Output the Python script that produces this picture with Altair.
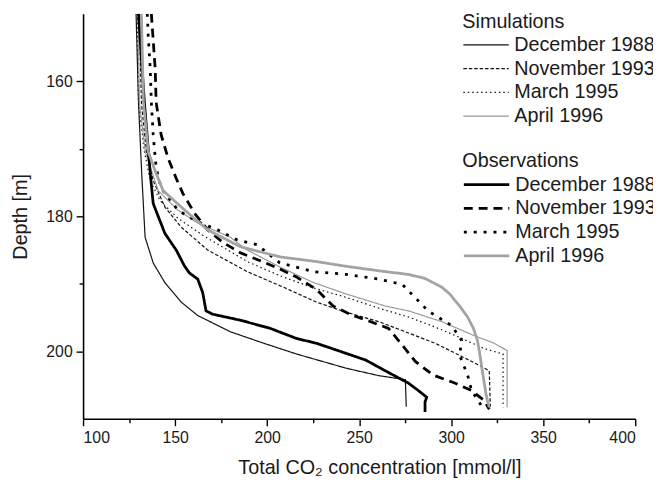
import altair as alt
import pandas as pd

series_names = ["December 1988", "November 1993", "March 1995", "April 1996"]

# ---- Simulations (thin lines) ----
sim_dec88_conc = [128.8, 130.1, 131.8, 133.7, 138.1, 144.4, 153.3, 162.3, 180.0, 198.1, 216.0, 242.9, 260.6, 275.1, 275.6]
sim_dec88_depth = [150.0, 163.0, 173.3, 183.1, 186.9, 189.8, 192.7, 194.7, 197.1, 198.8, 200.4, 202.5, 203.6, 204.2, 208.2]

sim_nov93_conc = [130.5, 131.7, 134.4, 138.1, 144.4, 153.3, 167.7, 189.2, 208.9, 226.7, 242.9, 260.6, 275.1, 291.2, 304.6, 315.4, 320.7, 321.3]
sim_nov93_depth = [150.0, 163.1, 170.4, 174.7, 178.6, 181.6, 185.0, 188.2, 190.5, 192.7, 194.2, 195.6, 197.1, 198.8, 200.6, 202.1, 202.9, 208.3]

sim_mar95_conc = [129.5, 130.1, 133.3, 136.5, 141.9, 151.6, 165.0, 189.2, 206.9, 225.1, 242.9, 260.6, 276.7, 291.2, 303.5, 318.0, 328.2, 328.2]
sim_mar95_depth = [150.0, 163.1, 170.4, 174.7, 177.7, 180.3, 182.8, 186.7, 188.8, 190.6, 192.0, 193.6, 194.9, 196.4, 197.8, 199.6, 200.4, 208.3]

sim_apr96_conc = [130.0, 130.6, 133.8, 140.8, 151.6, 162.3, 180.0, 189.2, 206.9, 225.1, 242.9, 264.3, 276.7, 294.9, 312.7, 323.4, 330.4, 330.4]
sim_apr96_depth = [150.0, 163.1, 170.4, 176.2, 179.1, 181.0, 183.1, 185.0, 187.5, 189.8, 191.5, 193.3, 194.0, 195.6, 197.7, 198.8, 199.9, 208.3]

# ---- Observations (thick lines) ----
obs_dec88_conc = [130.1, 133.3, 136.4, 138.1, 144.4, 150.6, 155.2, 157.8, 162.3, 165.0, 166.8, 170.4, 185.6, 201.7, 216.0, 226.7, 242.9, 253.6, 264.3, 276.7, 282.1, 286.7, 285.8, 285.8]
obs_dec88_depth = [150.0, 163.1, 173.3, 178.1, 182.5, 185.0, 187.4, 188.4, 189.3, 191.3, 194.0, 194.5, 195.4, 196.6, 198.1, 198.8, 200.3, 201.3, 202.9, 204.7, 205.8, 206.8, 207.5, 209.0]

obs_nov93_conc = [137.1, 139.2, 139.7, 142.4, 146.2, 150.5, 154.2, 160.7, 167.7, 175.7, 185.4, 194.5, 205.3, 216.0, 226.7, 235.9, 246.6, 255.2, 266.0, 273.5, 280.5, 290.1, 301.9, 311.1, 318.0, 320.7]
obs_nov93_depth = [150.0, 158.2, 163.1, 167.9, 171.4, 174.3, 176.6, 179.6, 182.0, 183.8, 185.4, 186.4, 187.6, 189.0, 190.8, 193.3, 194.7, 195.5, 196.6, 199.1, 201.5, 203.5, 204.7, 205.8, 207.3, 208.6]

obs_mar95_conc = [134.9, 135.4, 136.5, 137.1, 138.1, 139.7, 142.4, 146.2, 151.6, 160.7, 173.0, 183.8, 194.5, 206.9, 225.1, 242.9, 260.6, 273.5, 287.4, 300.3, 305.7, 304.6, 308.9, 311.1, 317.0]
obs_mar95_depth = [150.0, 153.3, 158.2, 163.1, 167.9, 172.8, 175.8, 177.2, 179.1, 180.6, 182.0, 183.5, 184.2, 186.9, 188.2, 188.6, 189.3, 190.1, 194.0, 196.2, 198.4, 200.6, 203.5, 205.8, 208.3]

obs_apr96_conc = [131.7, 132.8, 135.4, 139.2, 143.5, 155.3, 167.7, 185.4, 206.9, 226.7, 242.9, 264.3, 276.7, 285.8, 294.9, 299.2, 304.6, 308.9, 312.1, 314.3, 315.9, 317.5, 319.1, 320.7]
obs_apr96_depth = [150.0, 163.1, 170.4, 173.3, 176.2, 179.1, 182.0, 184.5, 186.0, 186.7, 187.4, 188.2, 188.6, 189.2, 190.5, 191.5, 193.3, 194.9, 196.6, 198.4, 201.0, 203.9, 206.6, 208.3]

x_major = [100, 150, 200, 250, 300, 350, 400]
x_minor = [125, 175, 225, 275, 325, 375]
y_major = [160, 180, 200]
y_minor = [170, 190]


def frame(concs, depths):
    rows = []
    for name, c, d in zip(series_names, concs, depths):
        for i, (cv, dv) in enumerate(zip(c, d)):
            rows.append({"series": name, "conc": cv, "depth": dv, "idx": i})
    return pd.DataFrame(rows)


sim_df = frame([sim_dec88_conc, sim_nov93_conc, sim_mar95_conc, sim_apr96_conc],
               [sim_dec88_depth, sim_nov93_depth, sim_mar95_depth, sim_apr96_depth])
obs_df = frame([obs_dec88_conc, obs_nov93_conc, obs_mar95_conc, obs_apr96_conc],
               [obs_dec88_depth, obs_nov93_depth, obs_mar95_depth, obs_apr96_depth])

FONT = "Liberation Sans"
xscale = alt.Scale(domain=[100, 400], nice=False, zero=False)
yscale = alt.Scale(domain=[150, 210], nice=False, zero=False, reverse=True)


def legend(title, ly):
    return alt.Legend(
        title=title, orient="none", legendX=384, legendY=ly,
        symbolType="M-2,0H2", symbolSize=529, symbolOffset=11.5,
        labelFontSize=20, titleFontSize=20,
        titleFontWeight="normal", labelFont=FONT, titleFont=FONT,
        labelColor="#1a1a1a", titleColor="#1a1a1a",
        labelOffset=16, rowPadding=1, titlePadding=1, padding=0, labelLimit=400,
    )


sim_leg = legend("Simulations", -2)
obs_leg = legend("Observations", 139)

sim = alt.Chart(sim_df).mark_line(clip=True).encode(
    x=alt.X("conc:Q", scale=xscale,
            axis=alt.Axis(values=x_major, title="Total CO₂ concentration [mmol/l]", orient="bottom",
                          tickSize=7, labelPadding=4, titlePadding=12, titleX=300)),
    y=alt.Y("depth:Q", scale=yscale,
            axis=alt.Axis(values=y_major, title="Depth [m]", orient="left",
                          tickSize=7, labelPadding=4, titlePadding=16)),
    color=alt.Color("series:O", sort=series_names,
                    scale=alt.Scale(domain=series_names, range=["#111111", "#111111", "#111111", "#9a9a9a"]),
                    legend=sim_leg),
    strokeDash=alt.StrokeDash("series:O", sort=series_names,
                              scale=alt.Scale(domain=series_names, range=[[1, 0], [3.5, 2], [1.5, 3], [1, 0]]),
                              legend=sim_leg),
    strokeWidth=alt.StrokeWidth("series:O", sort=series_names,
                                scale=alt.Scale(domain=series_names, range=[1.2, 1.2, 1.2, 1.4]),
                                legend=sim_leg),
    order="idx:Q",
)

obs = alt.Chart(obs_df).mark_line(clip=True).encode(
    x=alt.X("conc:Q", scale=xscale, axis=None),
    y=alt.Y("depth:Q", scale=yscale, axis=None),
    color=alt.Color("series:O", sort=series_names,
                    scale=alt.Scale(domain=series_names, range=["#000000", "#000000", "#000000", "#a3a3a3"]),
                    legend=obs_leg),
    strokeDash=alt.StrokeDash("series:O", sort=series_names,
                              scale=alt.Scale(domain=series_names, range=[[1, 0], [9, 6], [3, 7], [1, 0]]),
                              legend=obs_leg),
    strokeWidth=alt.StrokeWidth("series:O", sort=series_names,
                                scale=alt.Scale(domain=series_names, range=[2.8, 2.8, 2.8, 2.8]),
                                legend=obs_leg),
    order="idx:Q",
)

minor = alt.Chart(sim_df).mark_point(opacity=0).encode(
    x=alt.X("conc:Q", scale=xscale,
            axis=alt.Axis(values=x_minor, labels=False, domain=False, title=None, orient="bottom", tickSize=4)),
    y=alt.Y("depth:Q", scale=yscale,
            axis=alt.Axis(values=y_minor, labels=False, domain=False, title=None, orient="left", tickSize=4)),
)

chart = alt.layer(sim, obs, minor).resolve_scale(
    color="independent", strokeDash="independent", strokeWidth="independent"
).resolve_axis(x="independent", y="independent").properties(
    width=559, height=410,
    autosize=alt.AutoSizeParams(type="none"),
    padding={"left": 76, "top": 3, "right": 18, "bottom": 57},
).configure(font=FONT).configure_view(stroke=None).configure_axis(
    grid=False, domainColor="#000000", domainWidth=1.6, tickColor="#000000", tickWidth=1.4,
    labelFontSize=16, titleFontSize=20, titleFontWeight="normal", labelColor="#1a1a1a",
    titleColor="#1a1a1a", labelFont=FONT, titleFont=FONT,
)

chart.save("out.html", embed_options={"renderer": "svg", "actions": False})
